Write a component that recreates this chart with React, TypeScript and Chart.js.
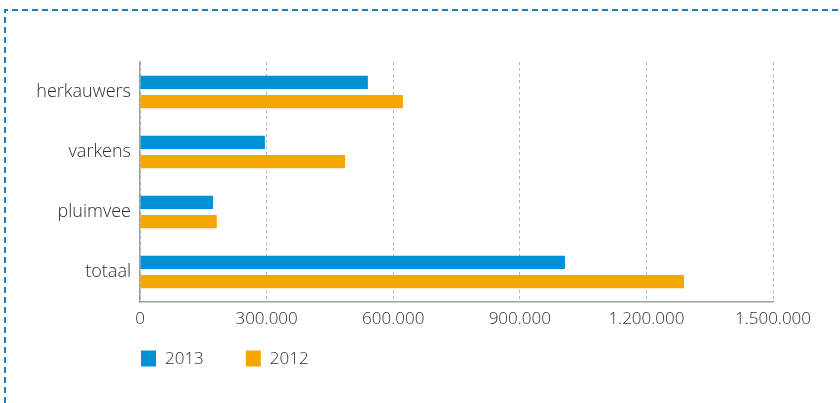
import React, { useEffect, useRef } from "react";
import { Chart, registerables } from "chart.js";

Chart.register(...registerables);

const categories = ["herkauwers", "varkens", "pluimvee", "totaal"];
const series2013 = [540000, 296000, 173000, 1007000];
const series2012 = [623000, 486000, 182000, 1289000];
const seriesLabels = ["2013", "2012"];
const seriesColors = ["#0091D3", "#F6A600"];
const tickValues = [0, 300000, 600000, 900000, 1200000, 1500000];

const FONT = "'Open Sans', 'DejaVu Sans', sans-serif";
const TEXT = "#2E2E2E";

function fmt(v: number): string {
  return Math.round(v)
    .toString()
    .replace(/\B(?=(\d{3})+(?!\d))/g, ".");
}

const framePlugin = {
  id: "frame",
  beforeDraw(chart: any) {
    const ctx = chart.ctx;
    ctx.save();
    ctx.strokeStyle = "#1C7DBD";
    ctx.lineWidth = 2;
    ctx.setLineDash([6, 4]);
    ctx.beginPath();
    ctx.moveTo(5, 403);
    ctx.lineTo(5, 10);
    ctx.lineTo(840, 10);
    ctx.stroke();
    ctx.restore();
  },
};

const legendPlugin = {
  id: "customLegend",
  afterDraw(chart: any) {
    const ctx = chart.ctx;
    const area = chart.chartArea;
    let x = area.left + 1;
    const y = 358.5;
    ctx.save();
    ctx.font = `300 17px ${FONT}`;
    ctx.textBaseline = "middle";
    chart.data.datasets.forEach((ds: any) => {
      ctx.fillStyle = ds.backgroundColor;
      ctx.fillRect(x, y - 8, 15, 16);
      ctx.fillStyle = TEXT;
      ctx.fillText(ds.label, x + 24, y + 0.5);
      const w = ctx.measureText(ds.label).width;
      x += 24 + w + 42;
    });
    ctx.restore();
  },
};

export default function App() {
  const ref = useRef<HTMLCanvasElement | null>(null);

  useEffect(() => {
    if (!ref.current) return;
    const chart = new Chart(ref.current, {
      type: "bar",
      data: {
        labels: categories,
        datasets: [
          {
            label: seriesLabels[0],
            data: series2013,
            backgroundColor: seriesColors[0],
            categoryPercentage: 0.64,
            barPercentage: 0.68,
          },
          {
            label: seriesLabels[1],
            data: series2012,
            backgroundColor: seriesColors[1],
            categoryPercentage: 0.64,
            barPercentage: 0.68,
          },
        ],
      },
      options: {
        indexAxis: "y",
        animation: false,
        responsive: false,
        maintainAspectRatio: false,
        layout: { padding: { left: 0, top: 62, right: 67, bottom: 61 } },
        plugins: {
          legend: { display: false },
          tooltip: { enabled: false },
        },
        scales: {
          x: {
            min: 0,
            max: 1500000,
            afterFit: (s: any) => {
              s.height = 40;
            },
            afterBuildTicks: (s: any) => {
              s.ticks = tickValues.map((v) => ({ value: v }));
            },
            grid: {
              color: "#B8B8B8",
              lineWidth: 1,
              drawTicks: false,
            },
            border: { display: true, color: "#A0A0A0", width: 1.5, dash: [3, 3] },
            ticks: {
              padding: 7,
              color: TEXT,
              font: { family: FONT, size: 17, weight: "300" },
              callback: (v: any) => fmt(Number(v)),
            },
          },
          y: {
            afterFit: (s: any) => {
              s.width = 140;
            },
            grid: { display: false, drawTicks: false },
            border: { display: true, color: "#A0A0A0", width: 1.5 },
            ticks: {
              padding: 9,
              color: TEXT,
              font: { family: FONT, size: 18, weight: "300" },
            },
          },
        },
      },
      plugins: [framePlugin, legendPlugin],
    });
    return () => chart.destroy();
  }, []);

  return (
    <div style={{ position: "fixed", left: 0, top: 0, width: 840, height: 403, background: "#fff" }}>
      <canvas ref={ref} width={840} height={403} style={{ width: 840, height: 403 }} />
    </div>
  );
}
